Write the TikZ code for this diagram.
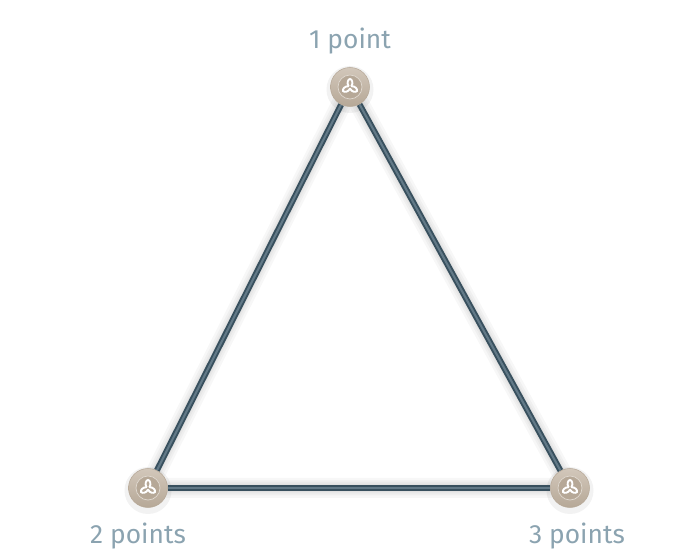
\documentclass[tikz,border=0pt]{standalone}
\usepackage{fontspec}
\setmainfont{Fira Sans}
\usetikzlibrary{positioning,backgrounds}
\definecolor{wire}{RGB}{56,80,94}
\definecolor{wirelight}{RGB}{98,121,135}
\definecolor{stone}{RGB}{210,199,186}
\definecolor{stonedark}{RGB}{182,168,151}
\definecolor{labelgray}{RGB}{139,163,176}
\tikzset{
	knot/.pic={
		\foreach \a in {90,210,330}
			\draw[white,line width=1.1pt,rotate=\a](65:0.03)..controls(40:0.11)and(14:0.16)..(0:0.16)..controls(-14:0.16)and(-40:0.11)..(-65:0.03);
	},
	point/.style={circle,minimum size=0.78cm,inner sep=0pt,top color=stone,bottom color=stonedark,draw=stonedark,line width=0.3pt,
		path picture={
			\draw[fill=stonedark,draw=stone!70!white,line width=0.4pt](path picture bounding box.center)circle(0.24cm);
			\pic at(path picture bounding box.center){knot};
		}},
	caption/.style={text=labelgray,inner sep=0pt,font=\fontsize{15}{17}\selectfont},
	glow/.style={line cap=round,draw=black,draw opacity=0.03,line width=#1},
	wire/.style={draw=wire,line width=1.1pt,double=wirelight,double distance=1.2pt},
}
\begin{document}
\begin{tikzpicture}
		\useasboundingbox(0,0)rectangle(14,11.2);
		% the three corners
		\node[point](p1)at(7,9.46){};
		\node[point](p2)at(2.96,1.44){};
		\node[point](p3)at(11.4,1.44){};
		% their scores
		\node[caption](l1)[above=0.26cm of p1]{1 point};
		\node[caption](l2)[below=0.3cm of p2,xshift=-0.2cm]{2 points};
		\node[caption](l3)[below=0.3cm of p3,xshift=0.14cm]{3 points};
		\begin{scope}[on background layer]
			\foreach \w in {0.4,0.3,0.22,0.16}
				\draw[glow=\w cm,yshift=-0.03cm](p1.center)--(p2.center)--(p3.center)--cycle;
			\foreach \n in {p1,p2,p3}
				\fill[black,opacity=0.05]([yshift=-0.05cm]\n.center)circle(0.47cm)circle(0.44cm);
			\draw[wire](p1)--(p2);
			\draw[wire](p2)--(p3);
			\draw[wire](p3)--(p1);
		\end{scope}
	\end{tikzpicture}
\end{document}
